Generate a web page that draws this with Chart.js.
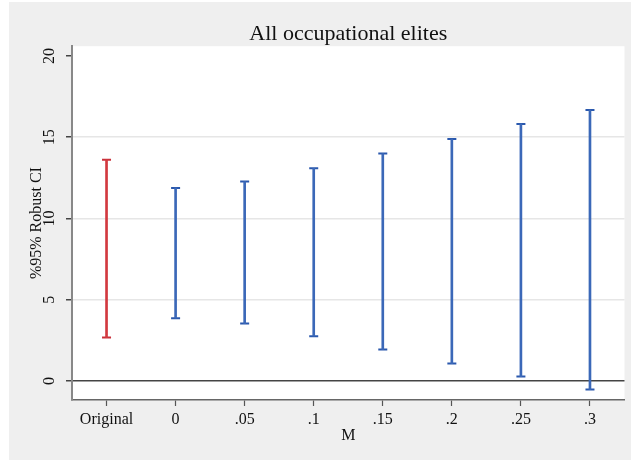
<!DOCTYPE html>
<html>
<head>
<meta charset="utf-8">
<script src="https://cdn.jsdelivr.net/npm/chart.js@4.4.0/dist/chart.umd.min.js"></script>
<style>
  body { margin: 0; background: #fff; }
  #wrap { position: absolute; left: 9px; top: 2px; width: 622px; height: 458px; background: #efefef; }
</style>
</head>
<body>
<div id="wrap"><canvas id="chart" width="622" height="458"></canvas></div>
<script>
// values
const categories = ["Original", "0", ".05", ".1", ".15", ".2", ".25", ".3"];
const lowerCI = [2.67, 3.86, 3.53, 2.75, 1.93, 1.07, 0.27, -0.53];
const upperCI = [13.62, 11.88, 12.27, 13.09, 13.99, 14.89, 15.82, 16.68];
const yTicks = [0, 5, 10, 15, 20];

const stemColors = categories.map((c, i) => (i === 0 ? "#d2393f" : "#3b68b8"));
const capColors = categories.map((c, i) => (i === 0 ? "#c9303a" : "#2a58ad"));
const serif = "'Liberation Serif', 'Times New Roman', serif";

// white plot region like stata
const plotBg = {
  id: "plotBg",
  beforeDraw(chart) {
    const { ctx, chartArea: a } = chart;
    ctx.save();
    ctx.fillStyle = "#ffffff";
    ctx.fillRect(a.left, a.top, a.right - a.left, a.bottom - a.top);
    ctx.restore();
  },
};

const capDataset = (values) => ({
  type: "line",
  data: values,
  showLine: false,
  pointStyle: "line",
  pointRadius: 4.5,
  pointHoverRadius: 4.5,
  pointBorderWidth: 2,
  pointBorderColor: capColors,
  pointBackgroundColor: capColors,
});

const ctx = document.getElementById("chart").getContext("2d");
new Chart(ctx, {
  type: "bar",
  data: {
    labels: categories,
    datasets: [
      {
        data: lowerCI.map((lo, i) => [lo, upperCI[i]]),
        backgroundColor: stemColors,
        barThickness: 2,
      },
      capDataset(lowerCI),
      capDataset(upperCI),
    ],
  },
  options: {
    responsive: false,
    animation: false,
    events: [],
    layout: { padding: { left: 0, right: 5, top: 0, bottom: 0 } },
    plugins: {
      legend: { display: false },
      tooltip: { enabled: false },
      title: {
        display: true,
        text: "All occupational elites",
        fullSize: false,
        color: "#111",
        font: { family: serif, size: 22, weight: "normal", lineHeight: 1.1 },
        padding: { top: 20, bottom: 0 },
      },
    },
    scales: {
      x: {
        offset: true,
        grid: {
          offset: false,
          drawOnChartArea: false,
          tickLength: 6,
          tickColor: "#555",
          tickWidth: 1.2,
        },
        border: { color: "#666", width: 1.5 },
        ticks: { color: "#111", padding: 4, font: { family: serif, size: 16 } },
        title: {
          display: true,
          text: "M",
          color: "#111",
          font: { family: serif, size: 16 },
          padding: { top: 0, bottom: 15 },
        },
        afterFit(scale) {
          scale.height = 60;
        },
      },
      y: {
        min: -1.17,
        max: 20.6,
        afterBuildTicks(scale) {
          scale.ticks = yTicks.map((v) => ({ value: v }));
        },
        grid: {
          color: (c) => (c.tick.value === 0 ? "#444" : c.tick.value === 20 ? "rgba(0,0,0,0)" : "#e6e6e6"),
          lineWidth: 1.5,
          tickLength: 6,
          tickColor: "#444",
          tickWidth: 1.5,
        },
        border: { color: "#888", width: 2 },
        ticks: {
          color: "#111",
          minRotation: 90,
          maxRotation: 90,
          crossAlign: "center",
          padding: 8,
          font: { family: serif, size: 16 },
        },
        title: {
          display: true,
          text: "%95% Robust CI",
          color: "#111",
          font: { family: serif, size: 16 },
          padding: { top: 18, bottom: 0 },
        },
        afterFit(scale) {
          scale.width = 63;
        },
      },
    },
  },
  plugins: [plotBg],
});
</script>
</body>
</html>
